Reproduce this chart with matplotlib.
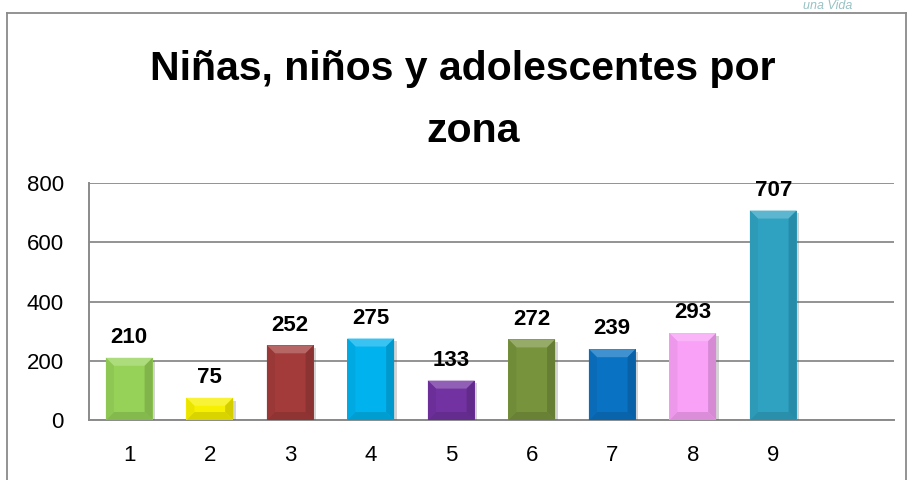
import matplotlib
matplotlib.use("Agg")
import matplotlib.pyplot as plt
import matplotlib.patheffects as pe
from matplotlib.colors import to_rgb
from matplotlib.lines import Line2D
from matplotlib.patches import Polygon

zonas = ["1", "2", "3", "4", "5", "6", "7", "8", "9"]
valores = [210, 75, 252, 275, 133, 272, 239, 293, 707]
colores = ["#96D258", "#F7F000", "#A23B3A", "#00B2EE", "#7232A2",
           "#77933C", "#0A72C2", "#F9A0F7", "#2FA2C2"]
yticks = [0, 200, 400, 600, 800]
titulo = ["Niñas, niños y adolescentes por", "zona"]


def mezcla(c, otro, t):
    a, b = to_rgb(c), to_rgb(otro)
    return tuple(a[i] * (1 - t) + b[i] * t for i in range(3))


def bisel(ax, bar, color, px=8):
    # efecto de bisel suave como en Excel
    x0, y0 = bar.get_x(), bar.get_y()
    x1, y1 = x0 + bar.get_width(), y0 + bar.get_height()
    inv = ax.transData.inverted()
    p0 = inv.transform(ax.transData.transform((x0, y0)) + (px, px))
    dx, dy = p0[0] - x0, p0[1] - y0
    dy = min(dy, (y1 - y0) / 2)
    caras = [
        ([(x0, y1), (x1, y1), (x1 - dx, y1 - dy), (x0 + dx, y1 - dy)], mezcla(color, "white", 0.22)),
        ([(x0, y0), (x1, y0), (x1 - dx, y0 + dy), (x0 + dx, y0 + dy)], mezcla(color, "black", 0.12)),
        ([(x0, y0), (x0 + dx, y0 + dy), (x0 + dx, y1 - dy), (x0, y1)], mezcla(color, "black", 0.05)),
        ([(x1, y0), (x1 - dx, y0 + dy), (x1 - dx, y1 - dy), (x1, y1)], mezcla(color, "black", 0.14)),
    ]
    for pts, c in caras:
        ax.add_patch(Polygon(pts, closed=True, facecolor=c, edgecolor="none", zorder=4))


def main() -> None:
    plt.rcParams["font.family"] = ["Liberation Sans", "DejaVu Sans"]
    fig = plt.figure(figsize=(9.1, 4.8), dpi=100)
    ax = fig.add_axes([89 / 910, 1 - 420 / 480, 805 / 910, 237 / 480])
    ax.set_xlim(0.5, 10.5)
    ax.set_ylim(0, 800)

    x = list(range(1, len(zonas) + 1))
    bars = ax.bar(x, valores, width=0.58, color=colores, edgecolor="none", zorder=3)
    for b, c in zip(bars, colores):
        b.set_path_effects([pe.SimplePatchShadow(offset=(2, -2), shadow_rgbFace="#555555",
                                                 alpha=0.25),
                            pe.Normal()])
        bisel(ax, b, c)

    for xi, v in zip(x, valores):
        ax.annotate(str(v), (xi, v), xytext=(0, 7), textcoords="offset points",
                    ha="center", va="bottom", fontsize=16, fontweight="bold",
                    zorder=5)

    ax.set_yticks(yticks)
    ax.set_xticks(x)
    ax.set_xticklabels(zonas)
    ax.tick_params(axis="both", length=0, labelsize=16)
    ax.tick_params(axis="x", pad=18)
    ax.tick_params(axis="y", pad=18)
    ax.yaxis.grid(True, color="#8A8A8A", linewidth=1.3, zorder=0)
    ax.set_axisbelow(True)
    for s in ["top", "right"]:
        ax.spines[s].set_visible(False)
    for s in ["left", "bottom"]:
        ax.spines[s].set_color("#8A8A8A")
        ax.spines[s].set_linewidth(1.4)

    fig.text(463 / 910, 1 - 69 / 480, titulo[0], ha="center", va="center",
             fontsize=29.5, fontweight="bold")
    fig.text(473 / 910, 1 - 131 / 480, titulo[1], ha="center", va="center",
             fontsize=29.5, fontweight="bold")

    # marco del grafico
    for xs, ys in [([7, 7], [13, 480]), ([7, 906], [13, 13]), ([906, 906], [13, 480])]:
        fig.add_artist(Line2D([v / 910 for v in xs], [1 - v / 480 for v in ys],
                              color="#8A8A8A", linewidth=1.3))

    # logo arriba a la derecha
    fig.text(828 / 910, 1 - 6 / 480, "una Vida", ha="center", va="center",
             fontsize=9, style="italic", color="#7FB3B5", alpha=0.8)

    fig.savefig("out.png", dpi=100)


if __name__ == "__main__":
    main()
